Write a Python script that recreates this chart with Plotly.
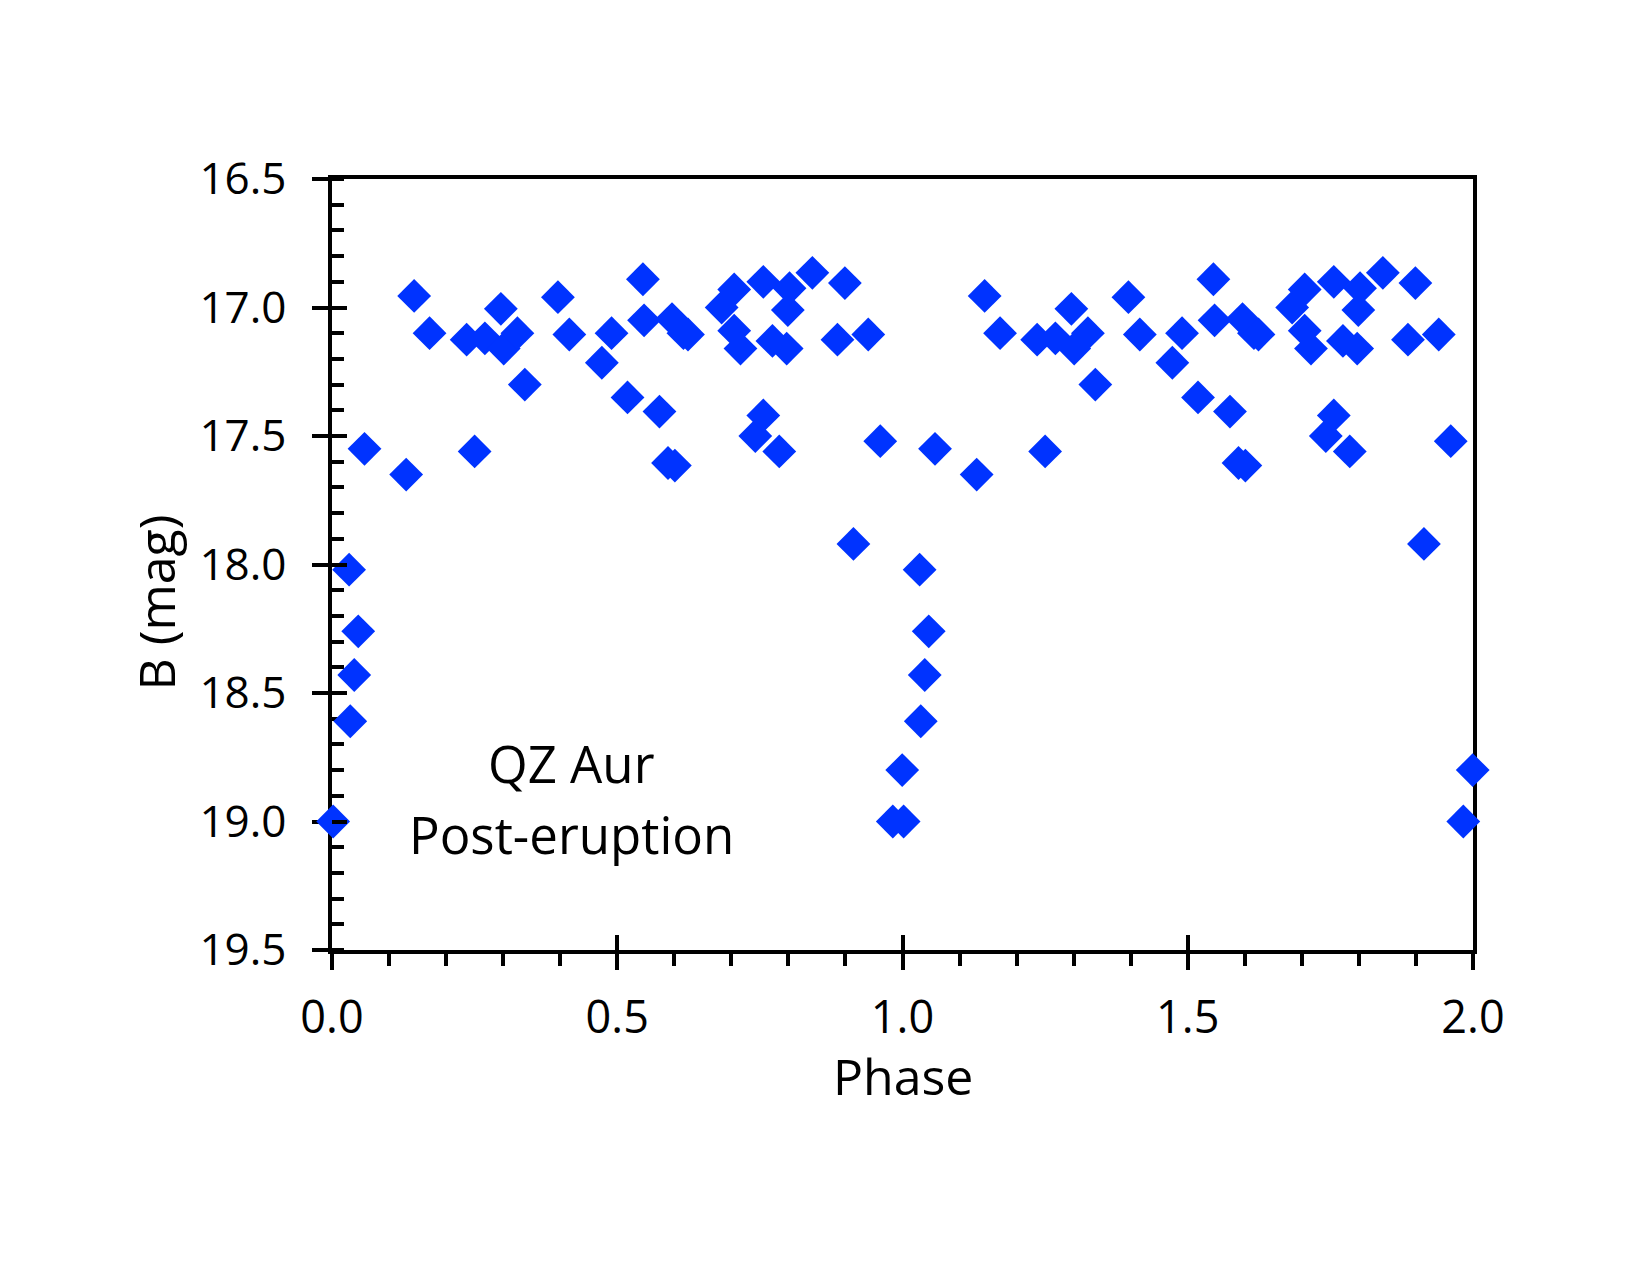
import plotly.graph_objects as go

# Phase (one cycle) and B magnitude; plotted over two cycles
phase = [0.002, 0.030, 0.032, 0.039, 0.046, 0.057, 0.130, 0.144, 0.171, 0.236,
         0.250, 0.268, 0.296, 0.301, 0.325, 0.338, 0.396, 0.416, 0.473, 0.490,
         0.518, 0.545, 0.547, 0.574, 0.589, 0.596, 0.601, 0.616, 0.624, 0.683,
         0.705, 0.705, 0.716, 0.742, 0.756, 0.756, 0.772, 0.784, 0.797, 0.799,
         0.802, 0.842, 0.886, 0.899, 0.914, 0.940, 0.961, 0.983, 0.9995]
bmag = [19.00, 18.02, 18.61, 18.43, 18.26, 17.55, 17.65, 16.955, 17.10, 17.125,
        17.56, 17.12, 17.005, 17.16, 17.10, 17.30, 16.96, 17.105, 17.215, 17.10,
        17.35, 16.89, 17.05, 17.405, 17.605, 17.045, 17.615, 17.10, 17.105, 17.00,
        16.93, 17.09, 17.16, 17.50, 16.90, 17.42, 17.13, 17.56, 17.16, 17.01,
        16.925, 16.865, 17.125, 16.905, 17.92, 17.105, 17.52, 19.00, 18.80]

x_ticks = [0.0, 0.5, 1.0, 1.5, 2.0]
y_ticks = [16.5, 17.0, 17.5, 18.0, 18.5, 19.0, 19.5]
x_title = "Phase"
y_title = "B (mag)"
label_lines = ["QZ Aur", "Post-eruption"]

phase_all = phase + [p + 1 for p in phase]
bmag_all = bmag + bmag

FONT = "Open Sans, Lato, sans-serif"
BLUE = "#0033FF"
LW = 3.5

fig = go.Figure()
fig.add_trace(go.Scatter(
    x=phase_all, y=bmag_all, mode="markers",
    marker=dict(symbol="diamond", size=26, color=BLUE, line=dict(width=0)),
    cliponaxis=False, showlegend=False, hoverinfo="x+y"))
# empty trace on overlay axes (used only for the inward half of major ticks)
fig.add_trace(go.Scatter(x=[None], y=[None], xaxis="x2", yaxis="y2",
                         showlegend=False, hoverinfo="skip"))

fig.update_layout(
    width=1650, height=1275,
    margin=dict(l=332, r=177, t=179, b=325, autoexpand=False),
    paper_bgcolor="white", plot_bgcolor="white",
    font=dict(family=FONT, size=44, color="black"),
    xaxis=dict(range=[0, 2], tickvals=x_ticks, tickformat=".1f",
               ticks="outside", ticklen=16, tickwidth=LW, tickcolor="black",
               minor=dict(dtick=0.1, tick0=0, ticks="outside", ticklen=12,
                          tickwidth=LW, tickcolor="black", showgrid=False),
               showline=True, linewidth=LW, linecolor="black", mirror=True,
               showgrid=False, zeroline=False, layer="below traces",
               ticklabelstandoff=9,
               tickfont=dict(family=FONT, size=45, color="black")),
    yaxis=dict(range=[19.5, 16.5], tickvals=y_ticks, tickformat=".1f",
               ticks="outside", ticklen=16, tickwidth=LW, tickcolor="black",
               minor=dict(dtick=0.1, tick0=16.5, ticks="inside", ticklen=12,
                          tickwidth=LW, tickcolor="black", showgrid=False),
               showline=True, linewidth=LW, linecolor="black", mirror=True,
               showgrid=False, zeroline=False, layer="below traces",
               ticklabelstandoff=17,
               tickfont=dict(family=FONT, size=44, color="black")),
    xaxis2=dict(overlaying="x", anchor="y2", side="bottom", range=[0, 2],
                tickvals=x_ticks, ticks="inside", ticklen=15, tickwidth=LW,
                tickcolor="black", showticklabels=False, showgrid=False,
                zeroline=False, showline=False),
    yaxis2=dict(overlaying="y", anchor="x2", side="left", range=[19.5, 16.5],
                tickvals=y_ticks, ticks="inside", ticklen=15, tickwidth=LW,
                tickcolor="black", showticklabels=False, showgrid=False,
                zeroline=False, showline=False),
)

fig.add_annotation(text=x_title, xref="paper", yref="paper", x=0.5, y=0,
                   xanchor="center", yanchor="middle", yshift=-126,
                   showarrow=False, font=dict(family=FONT, size=50, color="black"))
fig.add_annotation(text=y_title, xref="paper", yref="paper", x=0, y=0.5,
                   xanchor="center", yanchor="middle", xshift=-177, yshift=-38,
                   textangle=-90, showarrow=False,
                   font=dict(family=FONT, size=50, color="black"))
fig.add_annotation(text=label_lines[0], x=0.42, y=18.774, xanchor="center",
                   yanchor="middle", showarrow=False,
                   font=dict(family=FONT, size=51, color="black"))
fig.add_annotation(text=label_lines[1], x=0.42, y=19.05, xanchor="center",
                   yanchor="middle", showarrow=False,
                   font=dict(family=FONT, size=51, color="black"))

fig.write_html("out.html")
